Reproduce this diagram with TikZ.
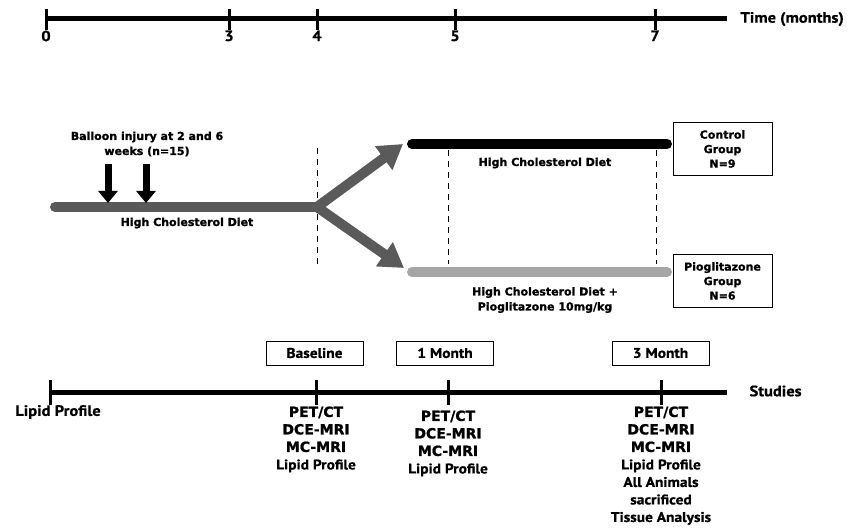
\documentclass[tikz,border=0pt]{standalone}
\usepackage{fontspec}
\setmainfont{DejaVu Sans}[BoldFeatures={FakeBold=1.2}]
\newfontfamily\gillfont[FakeStretch=1.1,BoldFeatures={FakeBold=0.8}]{PT Sans}
\usetikzlibrary{arrows.meta,positioning}

\definecolor{dietgray}{RGB}{90,90,90}
\definecolor{pioggray}{RGB}{165,165,165}

\begin{document}
\begin{tikzpicture}[x=1pt,y=-1pt,
  axis/.style={line width=5pt},
  tick/.style={line width=3pt},
  tlab/.style={font=\gillfont\bfseries\fontsize{15}{15}\selectfont},
  lab/.style={font=\bfseries\fontsize{11}{15}\selectfont, align=center},
  study/.style={font=\bfseries\fontsize{14}{17.5}\selectfont, align=center, anchor=north},
  groupbox/.style={draw, thin, minimum width=99pt, minimum height=53pt, align=center,
    font=\bfseries\fontsize{11}{14.5}\selectfont},
  visitbox/.style={draw, thin, minimum width=97pt, minimum height=24pt,
    font=\gillfont\bfseries\fontsize{14}{14}\selectfont},
  injury/.style={-{Triangle[width=19pt,length=12pt]}, line width=7pt},
  branch/.style={-{Triangle[width=28pt,length=24pt]}, line width=10pt, dietgray},
  diet/.style={line width=10pt, line cap=round},
  vline/.style={thick, dash pattern=on 6pt off 5pt}]
  \useasboundingbox (0,0) rectangle (851,529);

  % time axis on top
  \coordinate (tstart) at (46,19);
  \coordinate (tend) at (727,19);
  \draw[axis] (tstart) -- (tend);
  \foreach \m/\x in {0/46,3/229,4/317,5/455,7/655} {
    \coordinate (m\m) at (\x,19);
    \draw[tick] (\x,9) -- (\x,30);
    \node[tlab, below=8pt of m\m] (lab\m) {\m};
  }
  \node[tlab, anchor=west] (timelab) at (737,19) {Time (months)};

  % first phase: diet for everybody
  \coordinate (start) at (55,207);
  \coordinate (split) at (317,207);
  \draw[diet, dietgray] (start) -- (split);
  \node[lab] (balloon) at (147,144) {Balloon injury at 2 and 6\\weeks (n=15)};
  \coordinate (inj1) at (108,203);
  \coordinate (inj2) at (146,203);
  \draw[injury] (108,164) -- (inj1);
  \draw[injury] (146,164) -- (inj2);
  \node[lab] (diet1) at (187,223) {High Cholesterol Diet};
  \draw[vline] (317,148) -- (317,268);

  % the two groups
  \coordinate (ctrl) at (403,144);
  \coordinate (piog) at (404,268);
  \draw[branch] (split) -- (ctrl);
  \draw[branch] (split) -- (piog);
  \draw[diet, black] (412,144) -- (667,144);
  \draw[diet, pioggray] (412,272) -- (667,272);
  \draw[vline] (448,150) -- (448,264);
  \draw[vline] (656,150) -- (656,264);
  \node[lab] (diet2) at (545,163) {High Cholesterol Diet};
  \node[lab] (diet3) at (545,300) {High Cholesterol Diet +\\Pioglitazone 10mg/kg};
  \node[groupbox] (ctrlbox) at (722.5,149) {Control\\Group\\N=9};
  \node[groupbox] (piogbox) at (722.5,281) {Pioglitazone\\Group\\N=6};

  % studies axis
  \node[visitbox] (base) at (314.5,353) {Baseline};
  \node[visitbox] (mon1) at (445,353) {1 Month};
  \node[visitbox] (mon3) at (660.5,353) {3 Month};
  \coordinate (sstart) at (50,392);
  \coordinate (send) at (727,392);
  \draw[axis] (sstart) -- (send);
  \foreach \x in {50,316,448,661}
    \draw[tick] (\x,380) -- (\x,405);
  \node[tlab, anchor=west] (studylab) at (746,391) {Studies};
  \node[tlab] (lip0) at (58,412) {Lipid Profile};
  \node[study] (st1) at (316,403) {PET/CT\\DCE-MRI\\MC-MRI\\{\gillfont Lipid Profile}};
  \node[study] (st2) at (448,407) {PET/CT\\DCE-MRI\\MC-MRI\\{\gillfont Lipid Profile}};
  \node[study] (st3) at (661,403) {PET/CT\\DCE-MRI\\MC-MRI\\{\gillfont Lipid Profile}\\
    {\gillfont All Animals}\\{\gillfont sacrificed}\\{\gillfont Tissue Analysis}};
\end{tikzpicture}
\end{document}
